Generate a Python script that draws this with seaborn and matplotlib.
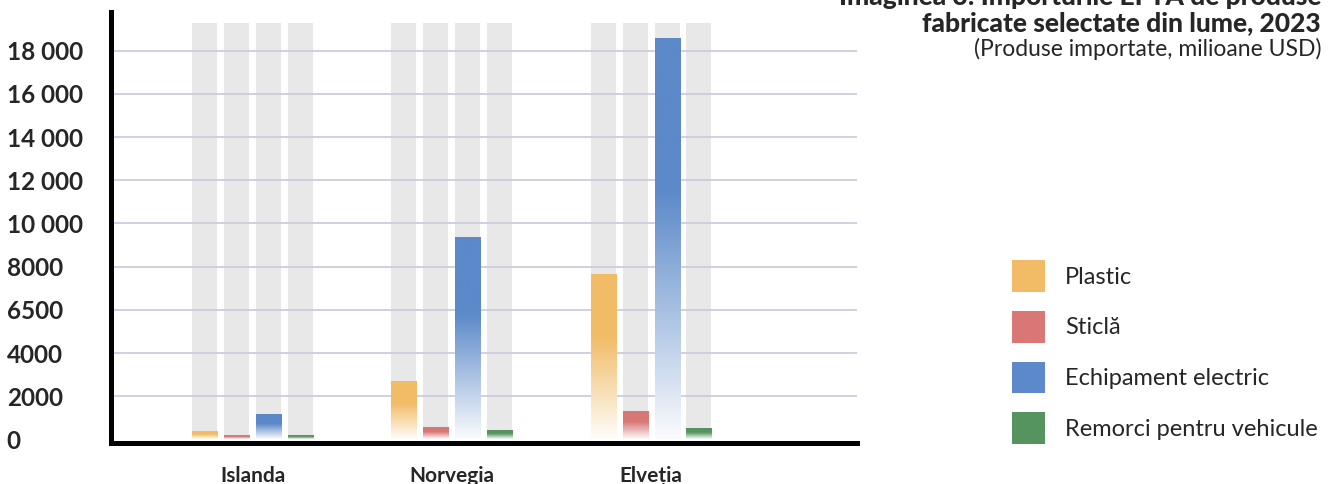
import numpy as np
import pandas as pd
import matplotlib
matplotlib.use('Agg')
import matplotlib.pyplot as plt
from matplotlib.colors import to_rgb
from matplotlib.patches import Patch
import seaborn as sns

# data (milioane USD)
COUNTRIES   = ['Islanda', 'Norvegia', 'Elveția']
PRODUCTS    = ['Plastic', 'Sticlă', 'Echipament electric', 'Remorci pentru vehicule']
plastic     = [350, 2650, 7600]
sticla      = [170, 530, 1280]
echipament  = [1150, 9330, 18540]
remorci     = [170, 400, 490]
TRACK_TOP   = 19300   # grey background column height

TICK_VALUES = [0, 2000, 4000, 6000, 8000, 10000, 12000, 14000, 16000, 18000]
TICK_LABELS = ['0', '2000', '4000', '6500', '8000', '10 000', '12 000',
               '14 000', '16 000', '18 000']

COLORS      = ['#F2BC66', '#D87776', '#5B89C9', '#55935F']
TRACK_COLOR = '#E8E8E8'
GRID_COLOR  = '#CBC8DC'

TITLE_1  = 'Imaginea 3: Importurile EFTA de produse'
TITLE_2  = 'fabricate selectate din lume, 2023'
SUBTITLE = '(Produse importate, milioane USD)'

sns.set_style('white')
plt.rcParams['font.family'] = ['Lato', 'DejaVu Sans']

rows = []
for prod, vals in zip(PRODUCTS, [plastic, sticla, echipament, remorci]):
    for c, v in zip(COUNTRIES, vals):
        rows.append({'tara': c, 'produs': prod, 'valoare': v})
df = pd.DataFrame(rows)
track_df = df.assign(valoare=TRACK_TOP)

fig = plt.figure(figsize=(13.38, 4.84), dpi=100)
ax = fig.add_axes([0.08296, 0.08574, 0.55755, 0.89008])

# grey tracks behind
sns.barplot(data=track_df, x='tara', y='valoare', hue='produs',
            order=COUNTRIES, hue_order=PRODUCTS,
            palette=[TRACK_COLOR] * 4, saturation=1, width=0.64, gap=0.216,
            errorbar=None, legend=False, linewidth=0, zorder=1, ax=ax)
n_track = len(ax.patches)

sns.barplot(data=df, x='tara', y='valoare', hue='produs',
            order=COUNTRIES, hue_order=PRODUCTS,
            palette=COLORS, saturation=1, width=0.64, gap=0.216,
            errorbar=None, legend=False, linewidth=0, zorder=2, ax=ax)

# vertical fade: solid on top ~38%, fading to white at the base
for p in ax.patches[n_track:]:
    x0, y0 = p.get_x(), p.get_y()
    w, h = p.get_width(), p.get_height()
    if h <= 0:
        continue
    rgb = np.array(to_rgb(p.get_facecolor()))
    f = np.linspace(0, 1, 200)
    t = np.clip(f / 0.62, 0, 1) * 0.97 + 0.03
    grad = t[:, None] * rgb[None, :] + (1 - t[:, None]) * np.ones(3)[None, :]
    ax.imshow(grad[:, None, :], extent=[x0, x0 + w, y0, y0 + h],
              origin='lower', aspect='auto', zorder=2.1, interpolation='bilinear')
    p.set_facecolor('none')

ax.set_xlim(-0.71, 3.033)
ax.set_ylim(-140, 19800)

ax.set_axisbelow('line')
ax.yaxis.grid(True, color=GRID_COLOR, linewidth=1.2)
ax.xaxis.grid(False)

ax.set_yticks(TICK_VALUES)
ax.set_yticklabels(TICK_LABELS, fontsize=17.5, fontweight='bold')
ax.yaxis.get_gridlines()[0].set_visible(False)
for lab in ax.get_yticklabels():
    lab.set_ha('left')
ax.tick_params(axis='y', length=0, pad=75)
ax.tick_params(axis='x', length=0, pad=17, labelsize=15)
for lab in ax.get_xticklabels():
    lab.set_fontweight('bold')
ax.set_xlabel('')
ax.set_ylabel('')

for s in ['top', 'right']:
    ax.spines[s].set_visible(False)
for s in ['left', 'bottom']:
    ax.spines[s].set_color('black')
    ax.spines[s].set_linewidth(3.6)

# title block, top right (first line partly cut by the top edge)
fig.text(0.9873, 1 - 5 / 484, TITLE_1, ha='right', va='baseline',
         fontsize=19, fontweight='black')
fig.text(0.9873, 1 - 31 / 484, TITLE_2, ha='right', va='baseline',
         fontsize=19, fontweight='black')
fig.text(0.9873, 1 - 56 / 484, SUBTITLE, ha='right', va='baseline',
         fontsize=16.5)

handles = [Patch(facecolor=c, edgecolor='none') for c in COLORS]
fig.legend(handles, PRODUCTS, loc='upper left',
           bbox_to_anchor=(1012 / 1338, 1 - 260 / 484),
           frameon=False, borderpad=0, borderaxespad=0,
           handlelength=1.4, handleheight=1.7, labelspacing=0.8,
           handletextpad=0.85, fontsize=17)

fig.savefig('out.png', dpi=100)
